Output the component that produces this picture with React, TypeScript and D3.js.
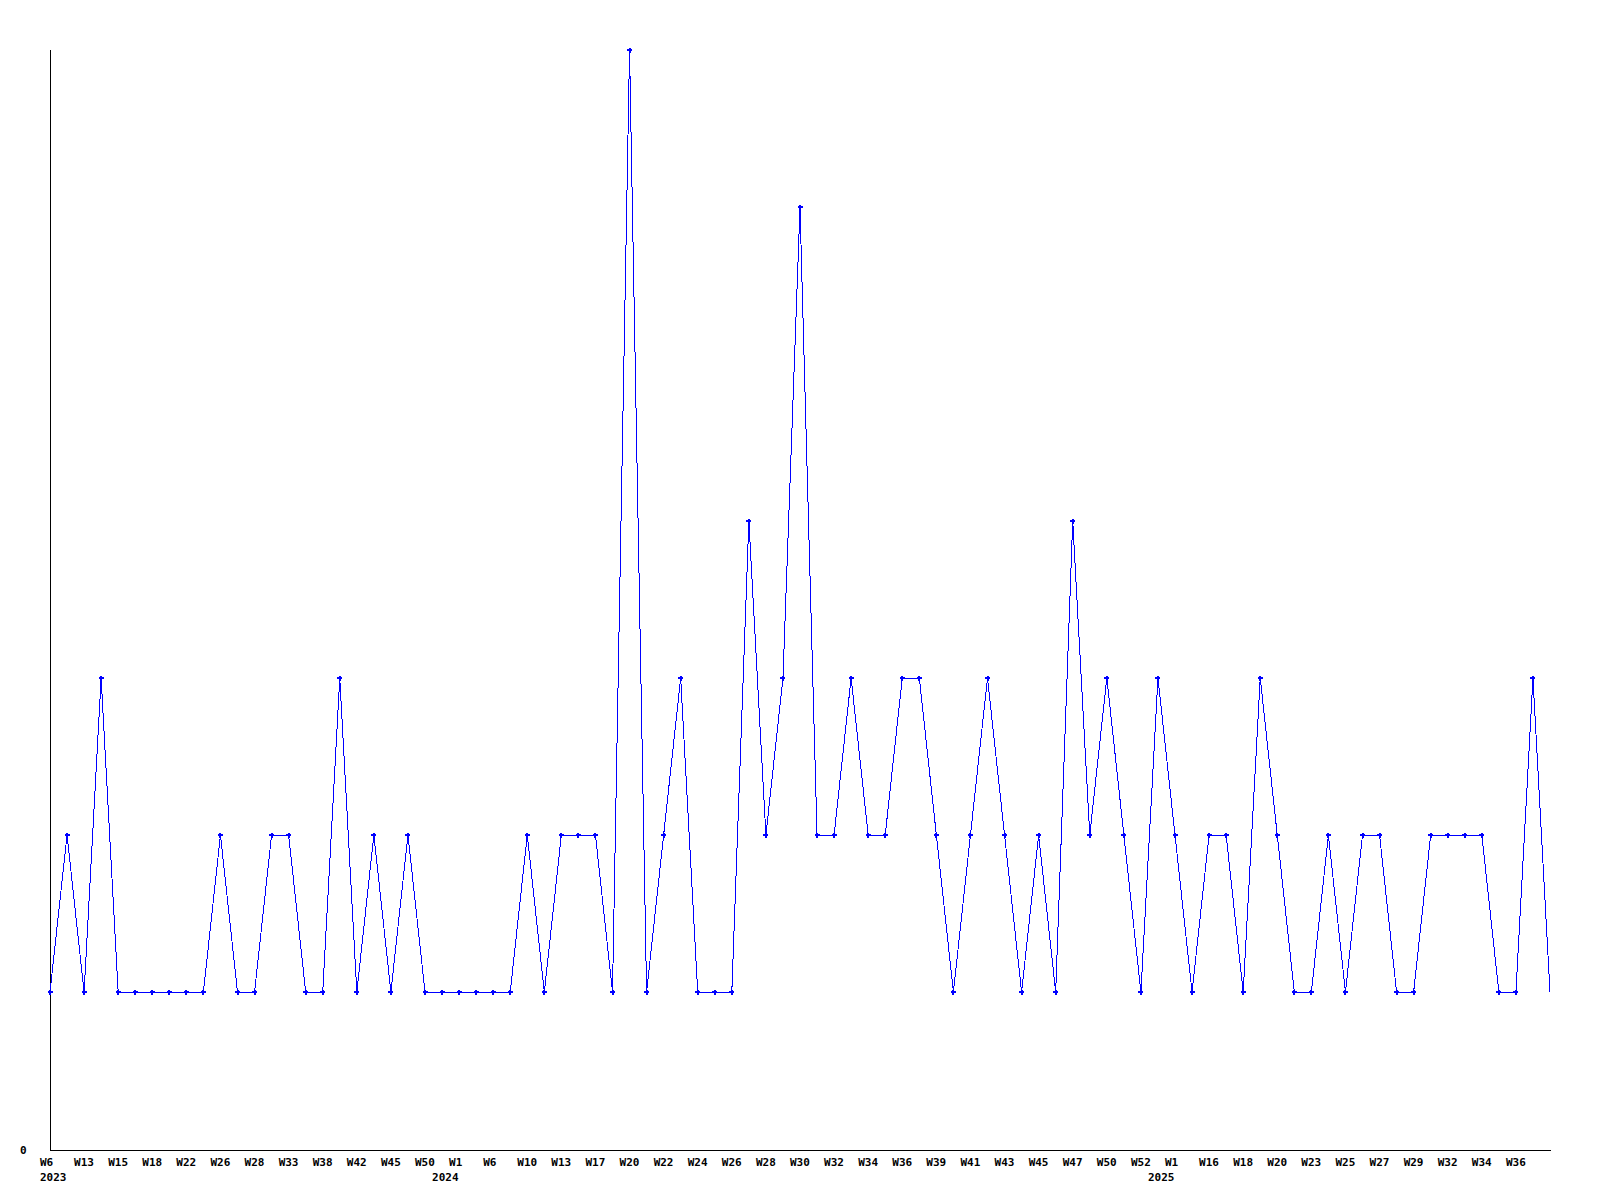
import React from "react";
import * as d3 from "d3";

// weekly counts, one per point (equal spacing)
const values = [
  1, 2, 1, 3, 1, 1, 1, 1, 1, 1, 2, 1, 1, 2, 2, 1, 1, 3, 1, 2, 1, 2, 1, 1, 1, 1,
  1, 1, 2, 1, 2, 2, 2, 1, 7, 1, 2, 3, 1, 1, 1, 4, 2, 3, 6, 2, 2, 3, 2, 2, 3, 3,
  2, 1, 2, 3, 2, 1, 2, 1, 4, 2, 3, 2, 1, 3, 2, 1, 2, 2, 1, 3, 2, 1, 1, 2, 1, 2,
  2, 1, 1, 2, 2, 2, 2, 1, 1, 3, 1,
];

// week labels, on every second point
const weekLabels = [
  "W6", "W13", "W15", "W18", "W22", "W26", "W28", "W33", "W38", "W42", "W45",
  "W50", "W1", "W6", "W10", "W13", "W17", "W20", "W22", "W24", "W26", "W28",
  "W30", "W32", "W34", "W36", "W39", "W41", "W43", "W45", "W47", "W50", "W52",
  "W1", "W16", "W18", "W20", "W23", "W25", "W27", "W29", "W32", "W34", "W36",
];

const yearLabels = ["2023", "2024", "2025"];
const yearIndex = [0, 23, 65];

const yMax = 7;

const W = 1600;
const H = 1200;
const left = 50;
const right = 1550;
const top = 50;
const bottom = 1150;

const font = "'DejaVu Sans Mono', monospace";

export default function App() {
  const x = d3
    .scalePoint<number>()
    .domain(values.map((_, i) => i))
    .range([left, right]);
  const y = d3.scaleLinear().domain([0, yMax]).range([bottom - 1, top]);

  const line = d3
    .line<number>()
    .x((_, i) => x(i)!)
    .y((d) => y(d));

  return (
    <svg
      width={W}
      height={H}
      style={{ position: "absolute", left: 0, top: 0, background: "#fff" }}
    >
      {/* axes */}
      <line x1={left} x2={left} y1={top} y2={bottom} stroke="#000" shapeRendering="crispEdges" />
      <line x1={left} x2={right + 1} y1={bottom} y2={bottom} stroke="#000" shapeRendering="crispEdges" />
      <text x={20} y={1154} fontFamily={font} fontWeight="bold" fontSize={11}>
        0
      </text>

      {/* series */}
      <path
        d={line(values)!}
        fill="none"
        stroke="#0000ff"
        strokeWidth={1}
        shapeRendering="crispEdges"
      />
      {values.slice(0, -1).map((d, i) => (
        <path
          key={i}
          transform={`translate(${x(i)},${y(d)})`}
          d="M-2.5,0H2.5M0,-2.5V2.5"
          stroke="#0000ff"
          strokeWidth={2}
          shapeRendering="crispEdges"
        />
      ))}

      {/* x labels */}
      {weekLabels.map((t, k) => (
        <text
          key={k}
          x={x(k * 2)! - 10}
          y={1166}
          fontFamily={font}
          fontWeight="bold"
          fontSize={11}
        >
          {t}
        </text>
      ))}
      {yearLabels.map((t, k) => (
        <text
          key={t}
          x={x(yearIndex[k])! - 10}
          y={1181}
          fontFamily={font}
          fontWeight="bold"
          fontSize={11}
        >
          {t}
        </text>
      ))}
    </svg>
  );
}
